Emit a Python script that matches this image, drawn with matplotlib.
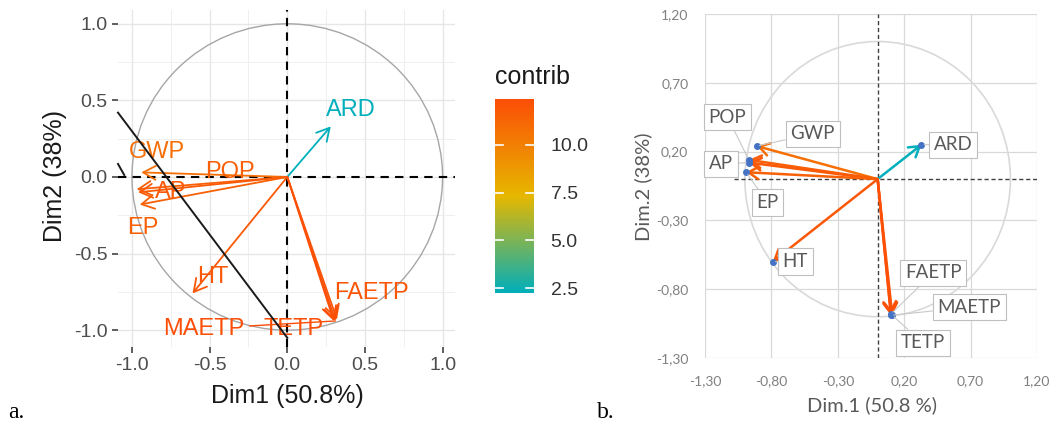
import numpy as np
import matplotlib
matplotlib.use("Agg")
import matplotlib.pyplot as plt
from matplotlib.colors import LinearSegmentedColormap, Normalize
from matplotlib.patches import Circle, Ellipse

# ---------------- data ----------------
variables = ["GWP", "POP", "AP", "EP", "ARD", "HT", "FAETP", "MAETP", "TETP"]

# panel a: variable coordinates (R / factoextra)
dim1_a = [-0.94, -0.97, -0.96, -0.95, 0.28, -0.61, 0.32, 0.31, 0.30]
dim2_a = [0.03, -0.08, -0.10, -0.18, 0.33, -0.76, -0.93, -0.94, -0.94]
contrib = [10.8, 11.6, 11.8, 11.5, 2.24, 11.9, 12.0, 12.4, 12.3]

# panel b: variable coordinates (spreadsheet version)
dim1_b = [-0.91, -0.97, -0.97, -0.99, 0.33, -0.79, 0.10, 0.10, 0.11]
dim2_b = [0.24, 0.14, 0.12, 0.05, 0.25, -0.60, -0.98, -0.99, -0.99]

ticks_a = [-1.0, -0.5, 0.0, 0.5, 1.0]
ticks_b = [-1.30, -0.80, -0.30, 0.20, 0.70, 1.20]
cbar_ticks = [2.5, 5.0, 7.5, 10.0]

# label placement (text centres, data units)
label_pos_a = {"GWP": (-0.84, 0.16), "POP": (-0.37, 0.03), "AP": (-0.75, -0.10),
               "EP": (-0.93, -0.33), "ARD": (0.41, 0.44), "HT": (-0.48, -0.65),
               "FAETP": (0.54, -0.76), "MAETP": (-0.54, -0.99), "TETP": (0.04, -0.99)}
label_pos_b = {"GWP": (-0.49, 0.33), "POP": (-1.13, 0.45), "AP": (-1.18, 0.11),
               "EP": (-0.83, -0.17), "ARD": (0.57, 0.25), "HT": (-0.62, -0.60),
               "FAETP": (0.42, -0.68), "MAETP": (0.69, -0.93), "TETP": (0.34, -1.19)}

W, H = 1057, 423
fig = plt.figure(figsize=(W / 100, H / 100), dpi=100)
fig.patch.set_facecolor("white")


def fx(px):
    return px / W


def fy(py):
    return 1 - py / H


cmap = LinearSegmentedColormap.from_list("contrib", ["#00AFBB", "#E7B800", "#FC4E07"])
norm = Normalize(vmin=min(contrib), vmax=max(contrib))
colors = [cmap(norm(c)) for c in contrib]

SANS = "Liberation Sans"

# ================= panel a =================
ax = fig.add_axes([fx(118), fy(347), fx(455 - 118), (347 - 10) / H])
ax.set_xlim(-1.09, 1.08)
ax.set_ylim(-1.11, 1.09)
for s in ax.spines.values():
    s.set_visible(False)
ax.set_xticks(ticks_a)
ax.set_yticks(ticks_a)
ax.set_xticks([-0.75, -0.25, 0.25, 0.75], minor=True)
ax.set_yticks([-0.75, -0.25, 0.25, 0.75], minor=True)
ax.grid(True, which="major", color="#E6E6E6", lw=1.0)
ax.grid(True, which="minor", color="#EFEFEF", lw=0.7)
ax.tick_params(which="minor", length=0)
ax.tick_params(which="major", length=4.5, width=1.1, color="#333333",
               labelsize=14, labelcolor="#4D4D4D", pad=3)
ax.set_xticklabels([f"{t:.1f}" for t in ticks_a], fontfamily=SANS)
ax.set_yticklabels([f"{t:.1f}" for t in ticks_a], fontfamily=SANS)
ax.set_axisbelow(True)

ax.add_patch(Circle((0, 0), 1.0, fill=False, ec="#A6A6A6", lw=1.0, zorder=2))
ax.axhline(0, color="black", ls=(0, (4, 3)), lw=1.5, zorder=3)
ax.axvline(0, color="black", ls=(0, (4, 3)), lw=1.5, zorder=3)

for name, x, y, c in zip(variables, dim1_a, dim2_a, colors):
    ax.annotate("", xy=(x, y), xytext=(0, 0),
                arrowprops=dict(arrowstyle="->,head_length=0.45,head_width=0.25",
                                color=c, lw=1.3, shrinkA=0, shrinkB=0,
                                mutation_scale=20), zorder=4)
for name, x, y, c in zip(variables, dim1_a, dim2_a, colors):
    lx, ly = label_pos_a[name]
    if name == "MAETP":
        ax.annotate(name, xy=(x, y), xytext=(lx, ly), ha="center", va="center",
                    fontsize=17, color=c, fontfamily=SANS, zorder=5,
                    arrowprops=dict(arrowstyle="-", color=c, lw=1.0,
                                    shrinkA=2, shrinkB=0))
    else:
        ax.text(lx, ly, name, ha="center", va="center", fontsize=17,
                color=c, fontfamily=SANS, zorder=5)

# hand-drawn separation line
ax.plot([-1.09, 0.0], [0.42, -1.05], color="#1A1A1A", lw=1.4, zorder=6, clip_on=False)
ax.plot([-1.09, -1.05], [0.085, 0.013], color="#1A1A1A", lw=1.4, zorder=6, clip_on=False)

fig.text(fx(287), fy(396), "Dim1 (50.8%)", ha="center", va="center",
         fontsize=18, fontfamily=SANS, color="#1A1A1A")
fig.text(fx(55), fy(176), "Dim2 (38%)", ha="center", va="center", rotation=90,
         fontsize=18, fontfamily=SANS, color="#1A1A1A")

# colorbar
cax = fig.add_axes([fx(495), fy(293), fx(534 - 495), (293 - 99) / H])
grad = np.linspace(norm.vmin, norm.vmax, 256).reshape(-1, 1)
cax.imshow(grad, aspect="auto", cmap=cmap, norm=norm, origin="lower",
           extent=[0, 1, norm.vmin, norm.vmax])
cax.set_xlim(0, 1)
cax.set_ylim(norm.vmin, norm.vmax)
cax.set_xticks([])
for s in cax.spines.values():
    s.set_visible(False)
cax.yaxis.tick_right()
cax.set_yticks(cbar_ticks)
cax.set_yticklabels([f"{t:.1f}" for t in cbar_ticks], fontfamily=SANS)
cax.tick_params(axis="y", length=0, labelsize=14, labelcolor="#333333", pad=12)
for t in cbar_ticks:
    cax.plot([0, 0.2], [t, t], color="white", lw=1.2)
    cax.plot([0.8, 1.0], [t, t], color="white", lw=1.2)
fig.text(fx(495), fy(77), "contrib", ha="left", va="center", fontsize=18,
         fontfamily=SANS, color="#1A1A1A")

fig.text(fx(8), fy(418), "a.", ha="left", va="baseline", fontsize=17,
         fontfamily="Liberation Serif", color="black")

# ================= panel b =================
XL = "Lato"
bx = fig.add_axes([fx(705), fy(358), fx(1037 - 705), (358 - 14) / H])
bx.set_xlim(-1.3, 1.2)
bx.set_ylim(-1.3, 1.2)
for s in bx.spines.values():
    s.set_visible(False)
bx.set_xticks(ticks_b)
bx.set_yticks(ticks_b)
bx.set_xticklabels([f"{t:.2f}".replace(".", ",") for t in ticks_b], fontfamily=XL)
bx.set_yticklabels([f"{t:.2f}".replace(".", ",") for t in ticks_b], fontfamily=XL)
bx.tick_params(length=0, labelsize=10, labelcolor="#808080")
bx.tick_params(axis="x", pad=12)
bx.tick_params(axis="y", pad=12)
bx.grid(True, color="#D9D9D9", lw=0.9)
bx.set_axisbelow(True)

bx.add_patch(Ellipse((0, 0), 2.0, 2.0, fill=False, ec="#D9D9D9", lw=1.2, zorder=2))
bx.plot([-1.08, 1.2], [0, 0], color="#404040", ls=(0, (3, 2)), lw=1.0, zorder=3)
bx.plot([0, 0], [-1.3, 1.2], color="#404040", ls=(0, (3, 2)), lw=1.0, zorder=3)

for name, x, y, c in zip(variables, dim1_b, dim2_b, colors):
    bx.annotate("", xy=(x, y), xytext=(0, 0),
                arrowprops=dict(arrowstyle="->,head_length=0.4,head_width=0.25",
                                color=c, lw=1.8, shrinkA=0, shrinkB=0,
                                mutation_scale=18), zorder=4)
bx.plot(dim1_b, dim2_b, "o", ms=4, color="#4472C4", zorder=5)

for name, x, y in zip(variables, dim1_b, dim2_b):
    lx, ly = label_pos_b[name]
    bx.annotate(name, xy=(x, y), xytext=(lx, ly), ha="center", va="center",
                fontsize=13.5, color="#595959", fontfamily=XL, zorder=6,
                bbox=dict(boxstyle="square,pad=0.25", fc="white", ec="#BFBFBF", lw=0.8),
                arrowprops=dict(arrowstyle="-", color="#C8C8C8", lw=0.8,
                                shrinkA=0, shrinkB=2))

fig.text(fx(872), fy(405), "Dim.1 (50.8 %)", ha="center", va="center",
         fontsize=14.5, fontfamily=XL, color="#595959")
fig.text(fx(643), fy(187), "Dim.2 (38%)", ha="center", va="center", rotation=90,
         fontsize=14.5, fontfamily=XL, color="#595959")

fig.text(fx(597), fy(418), "b.", ha="left", va="baseline", fontsize=17,
         fontfamily="Liberation Serif", color="black")

fig.savefig("out.png", dpi=100, facecolor="white")
